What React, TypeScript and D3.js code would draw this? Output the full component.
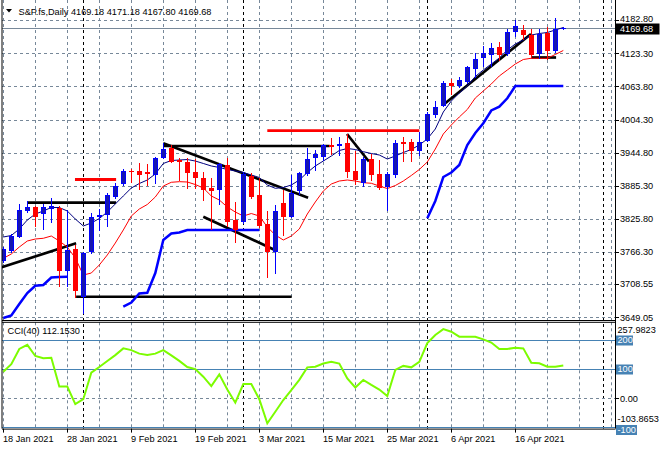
import React from "react";
import * as d3 from "d3";

// ---------- data ----------
const symbolTitle = "S&P.fs,Daily";
const titleOHLC = "4169.18 4171.18 4167.80 4169.68";
const cciTitle = "CCI(40) 112.1530";
const lastPrice = 4169.68;

const dateLabels = ["18 Jan 2021", "28 Jan 2021", "9 Feb 2021", "19 Feb 2021", "3 Mar 2021", "15 Mar 2021", "25 Mar 2021", "6 Apr 2021", "16 Apr 2021"];
const dateLabelBars = [0, 8, 16, 24, 32, 40, 48, 56, 64];
const gridBars = [0, 4, 8, 12, 16, 20, 24, 28, 32, 36, 40, 44, 48, 52, 56, 60, 64, 68, 72, 76];
const monthSeparatorBars = [10, 30, 53, 75];

const priceTicks = [3649.05, 3708.55, 3766.3, 3825.8, 3885.3, 3944.8, 4004.3, 4063.8, 4123.3, 4182.8];

const opens = [3750.7, 3768.7, 3793.9, 3840.6, 3847.8, 3834.6, 3843.6, 3846.0, 3732.8, 3771.2,
  3686.1, 3766.4, 3828.7, 3833.4, 3864.6, 3888.0, 3912.4, 3911.4, 3909.6, 3905.2,
  3935.8, 3953.8, 3932.2, 3927.5, 3909.6, 3898.8, 3880.8, 3877.2, 3922.7, 3823.9,
  3819.7, 3903.5, 3868.8, 3816.1, 3766.9, 3853.9, 3829.8, 3876.5, 3906.0, 3935.8,
  3937.6, 3958.1, 3957.4, 3961.7, 3911.9, 3890.9, 3932.9, 3906.5, 3882.6, 3904.7,
  3964.5, 3964.0, 3948.4, 3966.3, 4012.5, 4029.2, 4070.5, 4064.6, 4071.8, 4095.7,
  4114.4, 4120.8, 4134.1, 4121.6, 4161.1, 4165.2, 4156.2, 4121.6, 4160.4, 4128.0,
  4169.18];
const highs = [3775.4, 3798.7, 3852.1, 3858.5, 3849.9, 3852.6, 3863.9, 3849.0, 3841.8, 3778.9,
  3766.9, 3837.0, 3843.1, 3871.8, 3890.9, 3914.6, 3915.0, 3926.8, 3924.5, 3937.6,
  3961.7, 3958.6, 3935.8, 3935.8, 3933.5, 3910.6, 3898.8, 3926.8, 3934.7, 3856.7,
  3909.6, 3907.8, 3898.8, 3840.0, 3850.8, 3877.8, 3904.7, 3910.6, 3952.7, 3949.6,
  3960.4, 3971.7, 3973.5, 3978.4, 3948.4, 3937.6, 3942.4, 3931.7, 3910.6, 3967.6,
  3972.4, 3969.9, 3982.5, 4018.4, 4038.2, 4073.6, 4076.6, 4080.2, 4100.5, 4124.4,
  4136.5, 4141.3, 4144.2, 4166.5, 4183.2, 4174.2, 4166.5, 4166.5, 4170.1, 4186.2,
  4171.18];
const lows = [3748.4, 3766.9, 3792.8, 3839.1, 3813.1, 3807.2, 3820.8, 3705.8, 3705.8, 3686.1,
  3657.3, 3764.6, 3805.9, 3813.1, 3863.4, 3886.7, 3892.7, 3879.0, 3886.7, 3889.8,
  3935.3, 3927.2, 3895.7, 3880.8, 3880.8, 3859.8, 3807.7, 3852.1, 3813.6, 3784.9,
  3817.6, 3863.4, 3811.3, 3722.0, 3728.1, 3796.9, 3828.4, 3870.0, 3904.7, 3913.7,
  3931.7, 3942.4, 3940.6, 3901.7, 3888.5, 3884.9, 3895.7, 3879.0, 3841.8, 3901.7,
  3930.4, 3930.4, 3940.6, 3964.9, 4009.5, 4027.8, 4051.1, 4062.3, 4069.5, 4080.2,
  4100.5, 4100.5, 4111.3, 4120.3, 4154.4, 4148.5, 4116.2, 4114.4, 4112.6, 4126.2,
  4167.8];
const closes = [3771.2, 3795.1, 3841.8, 3846.7, 3829.8, 3847.8, 3849.6, 3732.8, 3770.0, 3696.8,
  3764.0, 3828.7, 3832.8, 3868.8, 3885.5, 3912.4, 3910.1, 3905.2, 3907.0, 3934.7,
  3951.4, 3928.6, 3928.6, 3908.8, 3898.8, 3877.2, 3876.0, 3923.9, 3819.7, 3805.9,
  3906.0, 3865.7, 3813.6, 3765.8, 3840.0, 3829.8, 3872.9, 3907.8, 3934.0, 3942.4,
  3958.1, 3955.6, 3960.4, 3910.6, 3895.7, 3932.9, 3904.7, 3880.8, 3906.5, 3961.7,
  3960.9, 3947.8, 3964.5, 4014.3, 4026.9, 4069.5, 4065.1, 4075.4, 4099.3, 4112.6,
  4123.4, 4132.9, 4120.8, 4162.2, 4172.9, 4156.2, 4119.8, 4158.0, 4128.0, 4166.5,
  4169.68];

const fastMA = [3793.3, 3796.0, 3807.7, 3823.8, 3834.6, 3840.0, 3846.3, 3846.3, 3840.0, 3825.6,
  3813.1, 3818.5, 3826.5, 3838.2, 3852.6, 3867.0, 3881.3, 3889.4, 3895.7, 3906.5,
  3925.4, 3930.7, 3931.6, 3932.5, 3929.8, 3925.4, 3920.9, 3918.2, 3914.6, 3911.9,
  3909.2, 3904.7, 3900.2, 3886.7, 3880.8, 3882.2, 3886.7, 3895.7, 3909.2, 3920.9,
  3929.8, 3938.8, 3948.7, 3952.3, 3950.5, 3946.6, 3943.3, 3940.6, 3933.4, 3938.8,
  3945.1, 3950.5, 3958.6, 3969.4, 3987.3, 4017.9, 4037.6, 4052.0, 4064.6, 4081.7,
  4093.3, 4104.1, 4114.9, 4129.3, 4140.0, 4147.2, 4156.2, 4158.9, 4160.7, 4165.2,
  4169.7];
const slowMA = [3755.0, 3762.8, 3775.3, 3786.1, 3789.7, 3791.0, 3795.1, 3786.1, 3775.3, 3755.6,
  3725.0, 3728.6, 3743.0, 3761.0, 3782.5, 3805.9, 3831.0, 3843.6, 3851.7, 3865.2,
  3884.9, 3891.6, 3892.7, 3892.1, 3887.6, 3881.3, 3867.0, 3859.8, 3847.2, 3838.2,
  3831.0, 3835.5, 3831.0, 3811.3, 3796.9, 3787.9, 3795.1, 3807.7, 3834.6, 3856.2,
  3875.9, 3888.5, 3893.9, 3895.7, 3893.9, 3890.9, 3889.8, 3884.9, 3880.4, 3885.8,
  3893.9, 3903.8, 3914.6, 3928.1, 3951.4, 3978.4, 3994.5, 4008.9, 4022.4, 4043.0,
  4055.6, 4068.2, 4082.6, 4093.3, 4104.1, 4112.2, 4114.4, 4114.4, 4114.4, 4121.2,
  4128.4];

const stopLine1Start = 0;
const stopLine1 = [3647.8, 3652.3, 3672.9, 3692.7, 3705.8, 3707.1, 3720.5, 3721.4, 3722.0];
const stopLine2Start = 15;
const stopLine2 = [3668.1, 3675.6, 3691.8, 3693.2, 3728.6, 3787.9, 3799.6, 3801.4, 3805.9, 3805.9,
  3805.9, 3805.9, 3805.9, 3805.9, 3805.9, 3805.9, 3805.9, 3805.9];
const stopLine3Start = 53;
const stopLine3 = [3826.9, 3858.0, 3901.1, 3909.2, 3922.7, 3958.6, 3980.2, 3997.6, 4020.6, 4027.4,
  4042.5, 4064.6, 4064.6, 4064.6, 4064.6, 4064.6, 4064.6, 4064.6];

const cciValues = [91, 117, 169, 183, 145, 137, 139, 40, 40, -20,
  -3, 88, 107, 128, 148, 171, 165, 153, 148, 153,
  165, 147, 128, 107, 100, 74, 42, 82, 30, -15,
  49, 49, -3, -86, -46, -6, 28, 63, 106, 108,
  119, 125, 119, 68, 37, 63, 46, 30, 8, 97,
  111, 106, 125, 189, 217, 237, 228, 211, 211, 211,
  202, 191, 169, 169, 173, 171, 122, 120, 108, 108,
  112.153];
const cciMax = 257.9823;
const cciMin = -103.8653;
const cciSolidLevels = [200, 100, -100];
const cciBoxLevels = [200, 100, -100];

// trend objects: [bar1, price1, bar2, price2]
const blackTrendLines = [
  [-0.2, 3738.9, 9.1, 3782.0],
  [3, 3854.9, 14.1, 3854.9],
  [9.1, 3686.0, 36.05, 3686.0],
  [20, 3956.8, 40.8, 3956.8],
  [20, 3961.6, 38.1, 3863.9],
  [25, 3829.8, 34.2, 3768.2],
  [42.96, 3978.4, 45.7, 3929.0],
  [55.2, 4033.2, 65.96, 4158.0],
  [66, 4115.8, 69.1, 4115.8],
];
const redLevelLines = [
  [8.96, 3896.6, 14.1, 3896.6],
  [33, 3984.3, 52, 3984.3],
];

// ---------- component ----------
const FONT = "'Liberation Sans', Arial, sans-serif";
const GRID = "#778899";
const STEEL = "#4682B4";

export default function App() {
  const L = 2, R = 615, mainBottom = 320, cciTop = 322.3, cciBottom = 428.6;
  const x = d3.scaleLinear().domain([0, 70]).range([3.3, 563.3]);
  const y = d3.scaleLinear().domain([3649.05, 4182.8]).range([317.3, 20.2]);
  const yc = d3.scaleLinear().domain([cciMin, cciMax]).range([cciBottom, 323]);
  const px = (i: number) => Math.round(x(i)) + 0.5;
  const py = (v: number) => Math.round(y(v)) + 0.5;

  const seriesLine = (start: number) =>
    d3.line<number>().x((_, i) => x(i + start)).y((d) => y(d));
  const cciLine = d3.line<number>().x((_, i) => x(i)).y((d) => yc(d));

  const stops: [number, number[]][] = [
    [stopLine1Start, stopLine1],
    [stopLine2Start, stopLine2],
    [stopLine3Start, stopLine3],
  ];
  const lastY = Math.round(y(lastPrice));

  return (
    <svg width={660} height={450} style={{ position: "absolute", left: 0, top: 0, background: "#fff" }}
      fontFamily={FONT} fontSize={9.2}>
      <defs>
        <clipPath id="mainClip"><rect x={L} y={0} width={R - L} height={mainBottom} /></clipPath>
        <clipPath id="cciClip"><rect x={L} y={cciTop} width={R - L} height={cciBottom - cciTop} /></clipPath>
      </defs>
      <rect x={0} y={0} width={660} height={450} fill="#fff" />

      {/* grid: main */}
      {priceTicks.map((t) => (
        <line key={"hg" + t} x1={L} x2={R} y1={py(t)} y2={py(t)} stroke={GRID} strokeDasharray="3,3" />
      ))}
      {gridBars.map((b) => (
        <g key={"vg" + b}>
          <line x1={px(b)} x2={px(b)} y1={0} y2={mainBottom} stroke={GRID} strokeDasharray="3,3" />
          <line x1={px(b)} x2={px(b)} y1={cciTop} y2={cciBottom} stroke={GRID} strokeDasharray="3,3" />
        </g>
      ))}
      {monthSeparatorBars.map((b) => (
        <line key={"sep" + b} x1={px(b)} x2={px(b)} y1={0} y2={cciBottom} stroke="#000" strokeDasharray="3,3" />
      ))}

      {/* current price line */}
      <line x1={L} x2={R} y1={lastY + 0.5} y2={lastY + 0.5} stroke={GRID} />

      <g clipPath="url(#mainClip)">
        {/* trend objects */}
        {redLevelLines.map((l, k) => (
          <line key={"rl" + k} x1={x(l[0])} y1={y(l[1])} x2={x(l[2])} y2={y(l[3])} stroke="#FF0000" strokeWidth={2.8} />
        ))}
        {blackTrendLines.map((l, k) => (
          <line key={"bl" + k} x1={x(l[0])} y1={y(l[1])} x2={x(l[2])} y2={y(l[3])} stroke="#000" strokeWidth={2.7} />
        ))}

        {/* stepped thick blue line */}
        {stops.map(([s, v], k) => (
          <path key={"st" + k} d={seriesLine(s)(v) || ""} fill="none" stroke="#0000FF" strokeWidth={2.5} />
        ))}

        {/* moving averages */}
        <path d={seriesLine(0)(slowMA) || ""} fill="none" stroke="#FF0000" strokeWidth={1} />
        <path d={seriesLine(0)(fastMA) || ""} fill="none" stroke="#000080" strokeWidth={1} />

        {/* candles */}
        {opens.map((o, i) => {
          const c = closes[i];
          const bull = c >= o;
          const col = bull ? "#0000FF" : "#FF0000";
          const cx = px(i);
          const top = Math.round(y(Math.max(o, c)));
          const bot = Math.round(y(Math.min(o, c)));
          const h = Math.max(1, bot - top);
          return (
            <g key={"c" + i}>
              <line x1={cx} x2={cx} y1={Math.round(y(highs[i]))} y2={Math.round(y(lows[i])) + 1} stroke={col} />
              <rect x={cx - 2} y={top + 0.5} width={4} height={Math.max(0.01, h - 1)}
                fill={bull ? "#1616AE" : "#FF0000"} stroke={col} strokeWidth={1} />
            </g>
          );
        })}
      </g>

      {/* CCI panel */}
      <line x1={L} x2={R} y1={Math.round(yc(0)) + 0.5} y2={Math.round(yc(0)) + 0.5} stroke={GRID} strokeDasharray="3,3" />
      {cciSolidLevels.map((lv) => (
        <line key={"cl" + lv} x1={L} x2={R} y1={Math.round(yc(lv)) + 0.5} y2={Math.round(yc(lv)) + 0.5} stroke={STEEL} />
      ))}
      <g clipPath="url(#cciClip)">
        <path d={cciLine(cciValues) || ""} fill="none" stroke="#7CFC00" strokeWidth={2} />
      </g>

      {/* frames */}
      <line x1={L} x2={L} y1={0} y2={cciBottom} stroke="#000" />
      <line x1={R + 0.5} x2={R + 0.5} y1={0} y2={cciBottom} stroke="#000" />
      <line x1={L} x2={R} y1={mainBottom + 0.5} y2={mainBottom + 0.5} stroke="#000" />
      <line x1={L} x2={R} y1={cciTop} y2={cciTop} stroke="#000" />
      <line x1={L} x2={R + 0.5} y1={cciBottom + 0.5} y2={cciBottom + 0.5} stroke="#000" />

      {/* titles */}
      <polygon points="6,9 12,9 9,12.5" fill="#000" />
      <text x={18.5} y={14.5} fill="#000">{symbolTitle + "  " + titleOHLC}</text>
      <text x={7.5} y={334} fill="#000">{cciTitle}</text>

      {/* price axis */}
      {priceTicks.map((t, k) => (
        <g key={"pl" + t}>
          <line x1={R} x2={R + 4} y1={py(t)} y2={py(t)} stroke="#000" />
          <text x={620} y={y(t) + (k === priceTicks.length - 1 ? 1.8 : 3.3)} fill="#000">{t.toFixed(2)}</text>
        </g>
      ))}
      <rect x={615.5} y={lastY - 4.5} width={44} height={11} fill="#000" />
      <text x={620} y={lastY + 4.3} fill="#fff">{lastPrice.toFixed(2)}</text>

      {/* CCI axis */}
      <text x={617.5} y={yc(cciMax) + 9.6} fill="#000">{cciMax.toFixed(4)}</text>
      {cciBoxLevels.map((lv) => {
        const off = lv < 0 ? 2.5 : 0;
        return (
          <g key={"cb" + lv}>
            <rect x={616} y={Math.round(yc(lv)) - 4.5 + off} width={lv < 0 ? 21 : 17} height={10} fill={STEEL} />
            <text x={617.5} y={yc(lv) + 3.3 + off} fill="#fff">{String(lv)}</text>
          </g>
        );
      })}
      <line x1={R} x2={R + 4} y1={Math.round(yc(0)) + 0.5} y2={Math.round(yc(0)) + 0.5} stroke="#000" />
      <text x={620} y={yc(0) + 3.3} fill="#000">{(0).toFixed(2)}</text>
      <text x={617.5} y={yc(cciMin) - 6.5} fill="#000">{cciMin.toFixed(4)}</text>

      {/* date axis */}
      {dateLabelBars.map((b, k) => (
        <g key={"dl" + b}>
          <line x1={px(b)} x2={px(b)} y1={cciBottom} y2={cciBottom + 4} stroke="#000" />
          <text x={Math.round(x(b))} y={441.5} fill="#000">{dateLabels[k]}</text>
        </g>
      ))}
    </svg>
  );
}
